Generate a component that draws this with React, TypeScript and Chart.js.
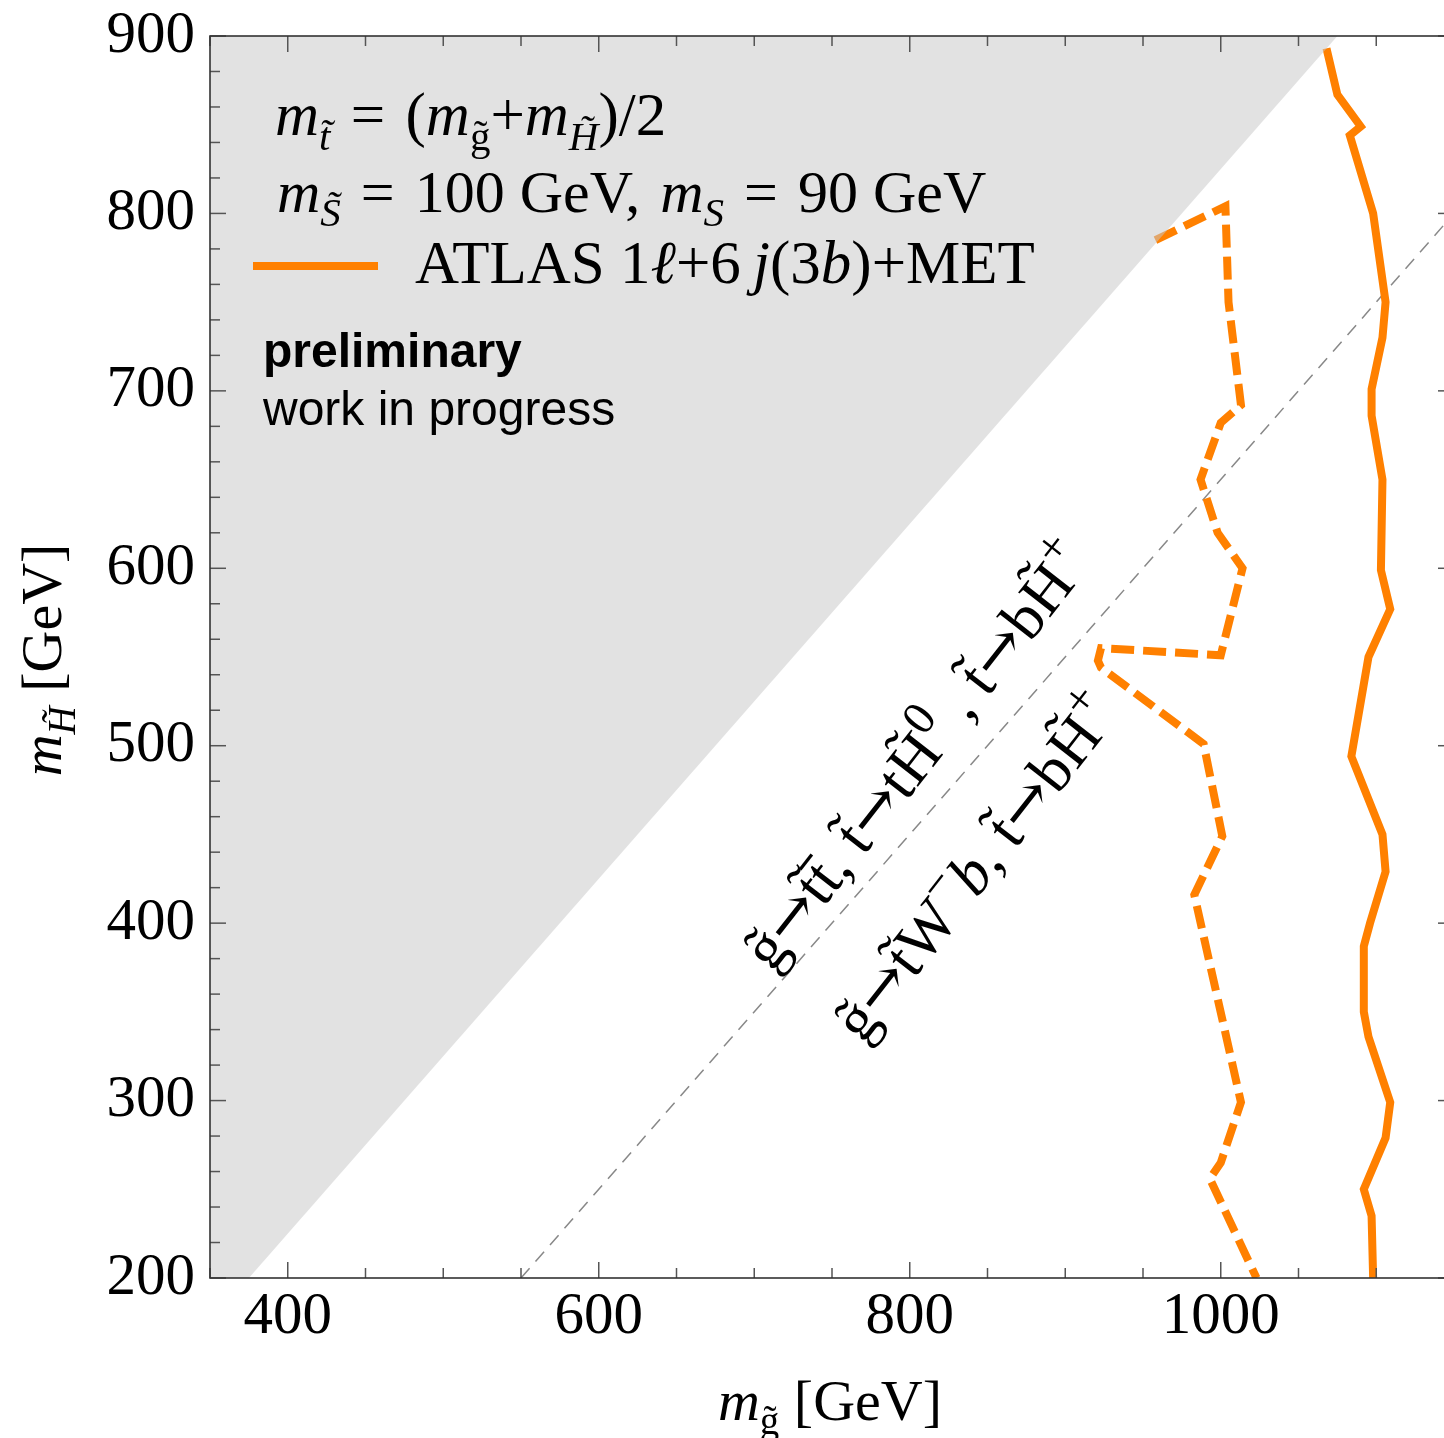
import { useEffect, useRef } from "react";
import { Chart, registerables } from "chart.js";

Chart.register(...registerables);

// ATLAS 1ℓ+6j(3b)+MET exclusion, solid contour (gluino mass, higgsino mass in GeV)
const solidGluino = [1068, 1075, 1090, 1083, 1098, 1106, 1104, 1097, 1097, 1104, 1103, 1109, 1095, 1084, 1104, 1106, 1096, 1092, 1092, 1095, 1109, 1106, 1092, 1097, 1098];
const solidHiggsino = [893, 867, 849, 844, 800, 750, 730, 701, 686, 650, 599, 577, 550, 494, 450, 429, 400, 387, 350, 336, 299, 279, 250, 235, 200];

// Dashed contour
const dashedGluino = [958, 1003, 1005, 1013, 1000, 987, 998, 1014, 1000, 923, 921, 923, 989, 1001, 983, 1013, 1000, 993, 1023];
const dashedHiggsino = [785, 804, 750, 692, 682, 650, 620, 600, 551, 555, 548, 544, 501, 449, 416, 299, 265, 256, 200];

// Edge of the shaded region (m_g - m_H = 175 GeV)
const shadeGluino = [350, 1075];
const shadeHiggsino = [175, 900];

// Two-body / three-body threshold (m_g - m_H = 350 GeV)
const thresholdGluino = [550, 1150];
const thresholdHiggsino = [200, 800];

const xTickValues = [400, 600, 800, 1000];
const xRange = [350, 1150];
const yRange = [200, 900];
const xMinorStep = 50;
const xMajorStep = 200;
const yMinorStep = 20;
const yMajorStep = 100;

const ORANGE = "#ff8000";
const SERIF = '"Liberation Serif", "Times New Roman", serif';
const ARROW_FONT = '"DejaVu Serif", serif';
const SANS = '"Liberation Sans", Arial, sans-serif';

const pts = (xs: number[], ys: number[]) => xs.map((x, i) => ({ x, y: ys[i] }));

type Seg = { t: string; it?: boolean; sub?: boolean; sup?: boolean; arrow?: boolean };

function drawRich(ctx: CanvasRenderingContext2D, segs: Seg[], x: number, y: number, size: number, align: "left" | "center", scriptScale = 0.68) {
  const fontFor = (s: Seg) => {
    const sz = s.sub || s.sup ? Math.round(size * scriptScale) : size;
    return `${s.it ? "italic " : ""}${sz}px ${s.arrow ? ARROW_FONT : SERIF}`;
  };
  let w = 0;
  for (const s of segs) {
    ctx.font = fontFor(s);
    w += ctx.measureText(s.t).width;
  }
  let cx = align === "center" ? x - w / 2 : x;
  ctx.textAlign = "left";
  ctx.textBaseline = "alphabetic";
  for (const s of segs) {
    ctx.font = fontFor(s);
    const dy = s.sub ? size * 0.24 : s.sup ? -size * 0.42 : 0;
    ctx.fillText(s.t, cx, y + dy);
    cx += ctx.measureText(s.t).width;
  }
}

const frameAndTicks = {
  id: "frameAndTicks",
  afterDatasetsDraw(chart: any) {
    const { ctx, chartArea: a, scales } = chart;
    const x = scales.x;
    const y = scales.y;
    ctx.save();
    ctx.strokeStyle = "#555";
    ctx.lineWidth = 1.5;
    const seg = (x0: number, y0: number, x1: number, y1: number) => {
      ctx.beginPath();
      ctx.moveTo(x0, y0);
      ctx.lineTo(x1, y1);
      ctx.stroke();
    };
    for (let v = xRange[0]; v <= xRange[1]; v += xMinorStep) {
      const px = x.getPixelForValue(v);
      const len = v % xMajorStep === 0 ? 16 : 10;
      seg(px, a.bottom, px, a.bottom - len);
      seg(px, a.top, px, a.top + len);
    }
    for (let v = yRange[0]; v <= yRange[1]; v += yMinorStep) {
      const py = y.getPixelForValue(v);
      const len = v % yMajorStep === 0 ? 16 : 10;
      seg(a.left, py, a.left + len, py);
      seg(a.right, py, a.right - len, py);
    }
    ctx.strokeStyle = "#333";
    ctx.lineWidth = 1.6;
    ctx.strokeRect(a.left, a.top, a.right - a.left, a.bottom - a.top);
    ctx.restore();
  },
};

const SP = "\u2004";

const annotations = {
  id: "annotations",
  afterDraw(chart: any) {
    const { ctx, scales } = chart;
    const x = scales.x;
    const y = scales.y;
    ctx.save();
    ctx.fillStyle = "#000";

    // legend block
    drawRich(ctx, [
      { t: "m", it: true }, { t: "t\u0303", it: true, sub: true },
      { t: `${SP}=${SP}(` }, { t: "m", it: true }, { t: "g\u0303", sub: true },
      { t: "+" }, { t: "m", it: true }, { t: "H\u0303", it: true, sub: true }, { t: ")/2" },
    ], 275, 135, 61, "left");
    drawRich(ctx, [
      { t: "m", it: true }, { t: "S\u0303", it: true, sub: true },
      { t: `${SP}=${SP}100 GeV,${SP}` }, { t: "m", it: true }, { t: "S", it: true, sub: true },
      { t: `${SP}=${SP}90 GeV` },
    ], 277, 212, 60, "left");
    ctx.strokeStyle = ORANGE;
    ctx.lineWidth = 8;
    ctx.beginPath();
    ctx.moveTo(253, 266);
    ctx.lineTo(378, 266);
    ctx.stroke();
    drawRich(ctx, [
      { t: "ATLAS 1" }, { t: "\u2113", it: true }, { t: "+6\u2009" }, { t: "j", it: true },
      { t: "(3" }, { t: "b", it: true }, { t: ")+MET" },
    ], 415, 283, 61, "left");

    ctx.textAlign = "left";
    ctx.textBaseline = "alphabetic";
    ctx.font = `bold 48px ${SANS}`;
    ctx.fillText("preliminary", 263, 367);
    ctx.font = `48px ${SANS}`;
    ctx.fillText("work in progress", 263, 425);

    // decay-channel labels along the threshold line
    const ang = (-52 * Math.PI) / 180;
    ctx.save();
    ctx.translate(x.getPixelForValue(805), y.getPixelForValue(494));
    ctx.rotate(ang);
    drawRich(ctx, [
      { t: "g\u0303" }, { t: "\u2192", arrow: true }, { t: "t\u0303t\u0304, t\u0303" }, { t: "\u2192", arrow: true },
      { t: "tH\u0303" }, { t: "0", sup: true },
      { t: " , t\u0303" }, { t: "\u2192", arrow: true }, { t: "bH\u0303" }, { t: "+", sup: true },
    ], 0, 19, 62, "center", 0.75);
    ctx.restore();
    ctx.save();
    ctx.translate(x.getPixelForValue(843), y.getPixelForValue(431));
    ctx.rotate(ang);
    drawRich(ctx, [
      { t: "g\u0303" }, { t: "\u2192", arrow: true }, { t: "t\u0303W" }, { t: "\u2212", sup: true }, { t: "b", it: true },
      { t: ", t\u0303" }, { t: "\u2192", arrow: true }, { t: "bH\u0303" }, { t: "+", sup: true },
    ], 0, 19, 62, "center", 0.75);
    ctx.restore();

    // axis titles
    drawRich(ctx, [{ t: "m", it: true }, { t: "g\u0303", sub: true }, { t: " [GeV]" }], 830, 1420, 58, "center");
    ctx.save();
    ctx.translate(61, 660);
    ctx.rotate(-Math.PI / 2);
    drawRich(ctx, [{ t: "m", it: true }, { t: "H\u0303", it: true, sub: true }, { t: " [GeV]" }], 0, 0, 58, "center");
    ctx.restore();

    ctx.restore();
  },
};

export default function App() {
  const ref = useRef<HTMLCanvasElement | null>(null);

  useEffect(() => {
    if (!ref.current) return;
    const chart = new Chart(ref.current, {
      type: "line",
      data: {
        datasets: [
          {
            data: pts(shadeGluino, shadeHiggsino),
            fill: "end",
            backgroundColor: "rgba(200,200,200,0.53)",
            borderWidth: 0,
            pointRadius: 0,
            order: 0,
          },
          {
            data: pts(solidGluino, solidHiggsino),
            borderColor: ORANGE,
            borderWidth: 8,
            borderJoinStyle: "miter",
            pointRadius: 0,
            fill: false,
            order: 1,
          },
          {
            data: pts(dashedGluino, dashedHiggsino),
            borderColor: ORANGE,
            borderWidth: 8,
            borderDash: [23, 9],
            borderJoinStyle: "miter",
            pointRadius: 0,
            fill: false,
            order: 1,
          },
          {
            data: pts(thresholdGluino, thresholdHiggsino),
            borderColor: "#888",
            borderWidth: 1.5,
            borderDash: [13, 9],
            pointRadius: 0,
            fill: false,
            order: 2,
          },
        ],
      } as any,
      options: {
        animation: false,
        responsive: false,
        devicePixelRatio: 1,
        layout: { padding: { top: 36, right: 6, left: 0, bottom: 0 } },
        plugins: { legend: { display: false }, tooltip: { enabled: false } },
        scales: {
          x: {
            type: "linear",
            min: xRange[0],
            max: xRange[1],
            grid: { display: false, drawTicks: false },
            border: { display: false },
            afterBuildTicks: (axis: any) => {
              axis.ticks = xTickValues.map((v) => ({ value: v }));
            },
            afterFit: (axis: any) => {
              axis.height = 160;
              axis.paddingLeft = 0;
              axis.paddingRight = 0;
            },
            ticks: {
              autoSkip: false,
              maxRotation: 0,
              padding: 4,
              color: "#000",
              font: { family: SERIF, size: 59 },
              callback: (v: any) => String(v),
            },
          },
          y: {
            type: "linear",
            min: yRange[0],
            max: yRange[1],
            grid: { display: false, drawTicks: false },
            border: { display: false },
            afterFit: (axis: any) => {
              axis.width = 210;
              axis.paddingTop = 0;
              axis.paddingBottom = 0;
            },
            ticks: {
              stepSize: yMajorStep,
              padding: 15,
              color: "#000",
              font: { family: SERIF, size: 59 },
              callback: (v: any) => String(v),
            },
          },
        },
      } as any,
      plugins: [frameAndTicks, annotations],
    });
    return () => chart.destroy();
  }, []);

  return (
    <div style={{ position: "fixed", left: 0, top: 0, width: 1444, height: 1438, overflow: "hidden", background: "#fff" }}>
      <canvas ref={ref} width={1460} height={1438} style={{ width: 1460, height: 1438, display: "block" }} />
    </div>
  );
}
